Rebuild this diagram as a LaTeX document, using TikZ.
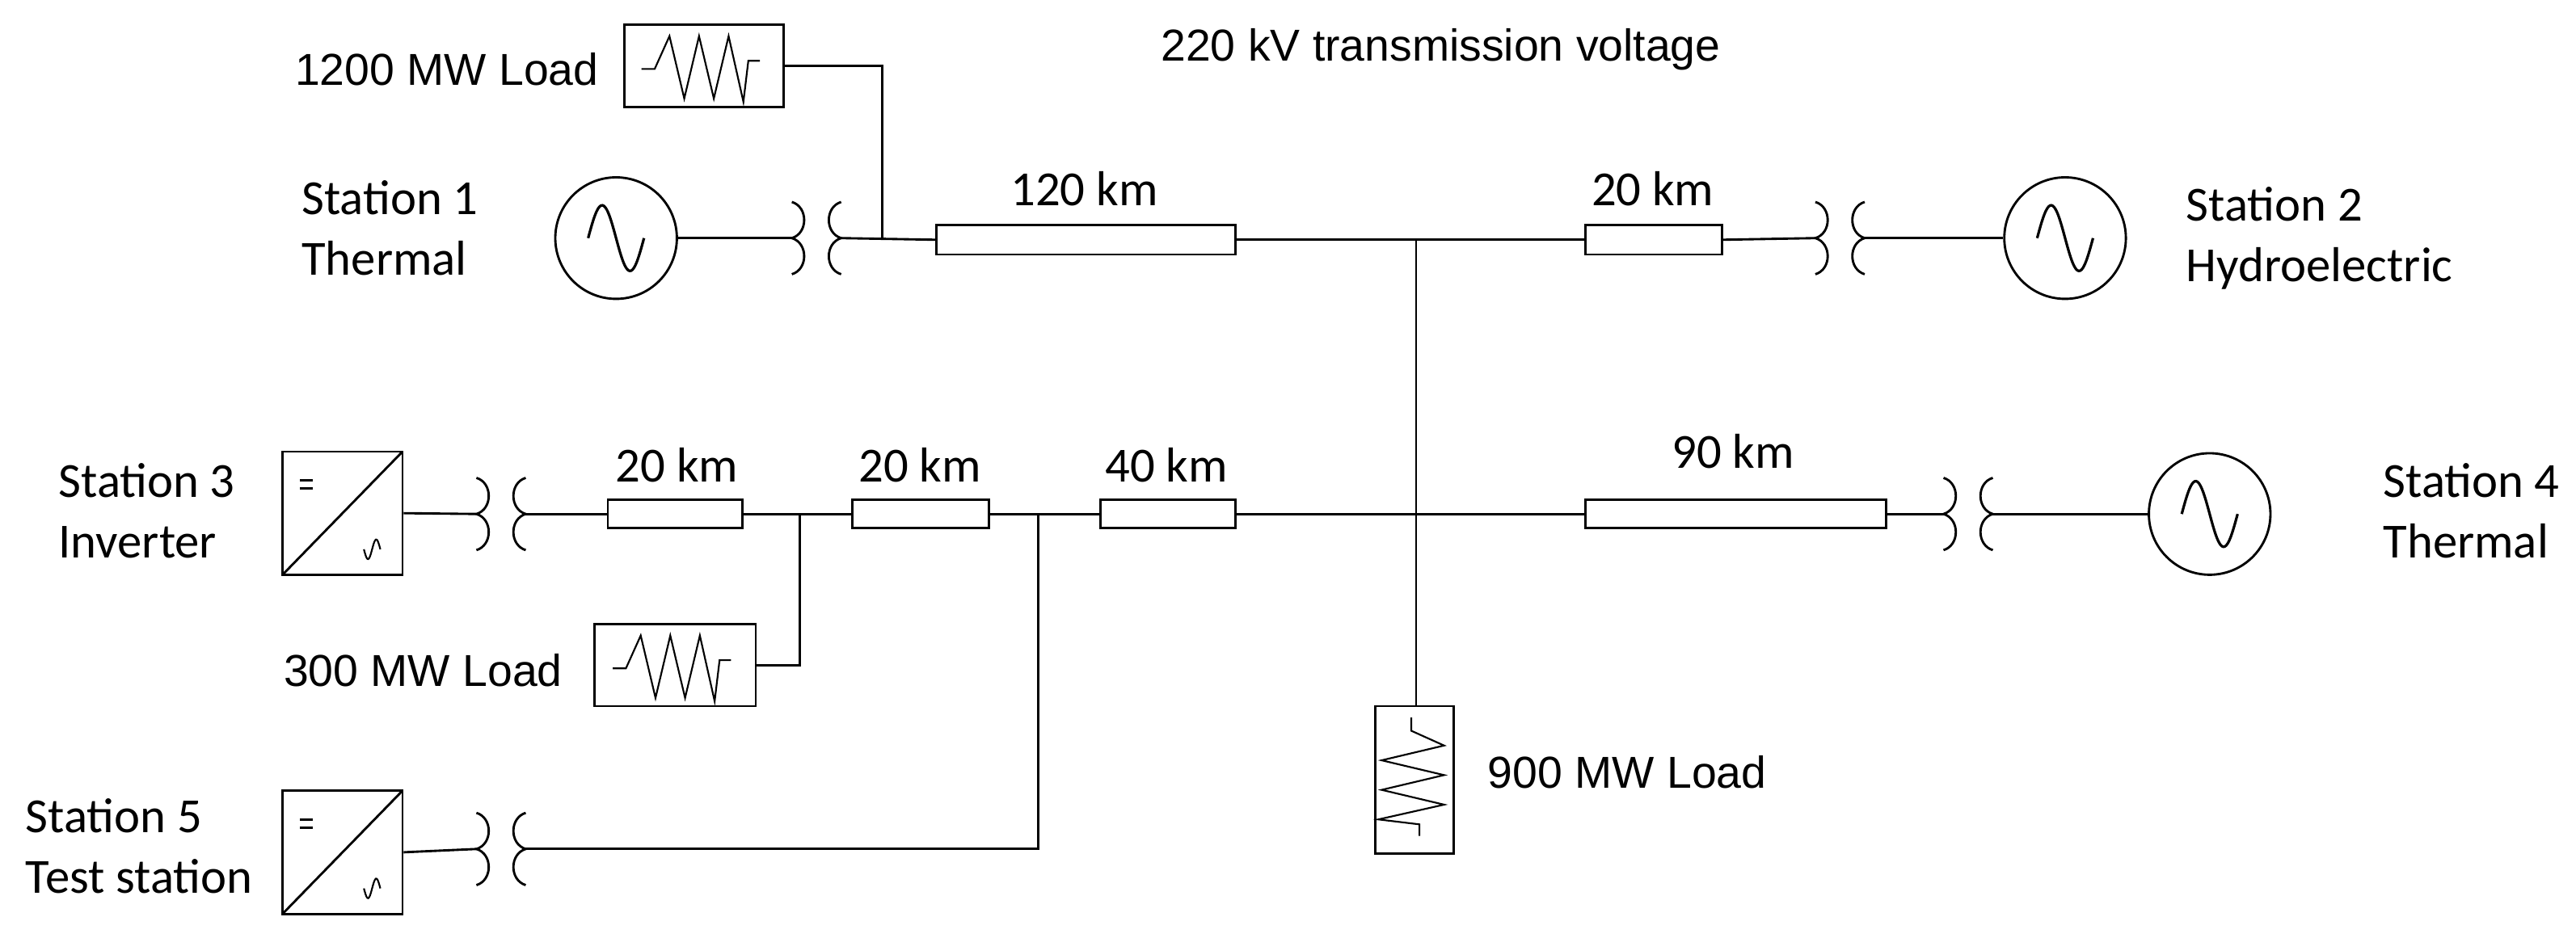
\documentclass[tikz,border=0pt]{standalone}
\usepackage{fontspec}
\setmainfont{Carlito}
\newfontfamily\arialf{Liberation Sans}
\begin{document}
\begin{tikzpicture}[x=0.02cm,y=-0.02cm,line width=0.8pt,
  box/.style={draw,rectangle,inner sep=0pt,fill=white},
  lbl/.style={font=\fontsize{17}{21}\selectfont,align=left,inner sep=0pt},
  albl/.style={font=\arialf\fontsize{15.5}{19}\selectfont,inner sep=0pt},
  gen/.style={draw,circle,minimum size=74*0.02cm,inner sep=0pt},
  pics/xf/.style={code={
    \coordinate (-l) at (0,0); \coordinate (-r) at (30,0);
    \draw (0,-22) .. controls (10,-19) and (10,-3) .. (0,0) .. controls (10,3) and (10,19) .. (0,22);
    \draw (30,-22) .. controls (20,-19) and (20,-3) .. (30,0) .. controls (20,3) and (20,19) .. (30,22);
  }},
  pics/sine/.style={code={\draw[line width=0.9pt] plot[domain=-17:17,samples=40,smooth] (\x,{-20*sin(180*(\x+17)/17)});}},
  pics/res/.style={code={\draw[line width=0.6pt] (-38,2) -- (-30,2) -- (-21,-18) -- (-12,20) -- (-3,-18) -- (6,20) -- (15,-18) -- (24,22) -- (27,-3) -- (34,-3);}},
  pics/inv/.style={code={
    \draw (-36.5,37.5) -- (36.5,-37.5);
    \draw (-26,-20) -- (-18,-20) (-26,-15) -- (-18,-15);
    \draw[line width=0.6pt] plot[domain=-5:5,samples=20,smooth] ({18+\x},{22-6*sin(180*\x/5)});
  }}]
\useasboundingbox (0,0) rectangle (1568,571);
% nodes
\node[box,minimum width=97*0.02cm,minimum height=50*0.02cm] (L1200) at (428.5,40) {};
\pic at (428.5,40) {res};
\node[box,minimum width=182*0.02cm,minimum height=18*0.02cm] (l120) at (661,146) {};
\node[box,minimum width=83*0.02cm,minimum height=18*0.02cm] (l20a) at (1006.5,146) {};
\node[gen] (g1) at (375,145) {}; \pic at (375,145) {sine};
\node[gen] (g2) at (1257,145) {}; \pic at (1257,145) {sine};
\node[gen] (g4) at (1345,313) {}; \pic at (1345,313) {sine};
\pic (xf1) at (482,145) {xf};
\pic (xf2) at (1105,145) {xf};
\pic (xf3) at (290,313) {xf};
\pic (xf4) at (1183,313) {xf};
\pic (xf5) at (290,517) {xf};
\node[box,minimum width=73*0.02cm,minimum height=75*0.02cm] (inv3) at (208.5,312.5) {};
\pic at (208.5,312.5) {inv};
\node[box,minimum width=73*0.02cm,minimum height=75*0.02cm] (inv5) at (208.5,519) {};
\pic at (208.5,519) {inv};
\node[box,minimum width=82*0.02cm,minimum height=17*0.02cm] (l20b) at (411,313) {};
\node[box,minimum width=83*0.02cm,minimum height=17*0.02cm] (l20c) at (560.5,313) {};
\node[box,minimum width=82*0.02cm,minimum height=17*0.02cm] (l40) at (711,313) {};
\node[box,minimum width=183*0.02cm,minimum height=17*0.02cm] (l90) at (1056.5,313) {};
\node[box,minimum width=98*0.02cm,minimum height=50*0.02cm] (L300) at (411,405) {};
\pic at (411,405) {res};
\node[box,minimum width=48*0.02cm,minimum height=90*0.02cm] (L900) at (861,475) {};
\pic[rotate=-90] at (861,475) {res};
\coordinate (j1) at (537,146);
\coordinate (jt) at (862,146);
\coordinate (j2) at (487,313);
\coordinate (j3) at (632,313);
% wires
\draw (g1.east) -- (xf1-l);
\draw (xf1-r) -- (l120.west);
\draw (L1200.east) -| (j1);
\draw (l120.east) -- (jt) -- (l20a.west);
\draw (l20a.east) -- (xf2-l);
\draw (xf2-r) -- (g2.west);
\draw (jt) -- (L900.north -| jt);
\draw (inv3.east) -- (xf3-l);
\draw (xf3-r) -- (l20b.west);
\draw (l20b.east) -- (l20c.west);
\draw (l20c.east) -- (l40.west);
\draw (l40.east) -- (l90.west);
\draw (l90.east) -- (xf4-l);
\draw (xf4-r) -- (g4.west);
\draw (L300.east) -| (j2);
\draw (inv5.east) -- (xf5-l);
\draw (xf5-r) -| (j3);
% labels
\node[albl] (t220) at (877,30) {220 kV transmission voltage};
\node[albl,anchor=east] (t1200) at (365,42) {1200 MW Load};
\node[albl,anchor=east] (t300) at (343,408) {300 MW Load};
\node[albl,anchor=west] (t900) at (905,470) {900 MW Load};
\node[lbl,anchor=west] (s1) at (183,139) {Station 1\\Thermal};
\node[lbl,anchor=west] (s2) at (1330,145) {Station 2\\Hydroelectric};
\node[lbl,anchor=west] (s3) at (35,311) {Station 3\\Inverter};
\node[lbl,anchor=west] (s4) at (1450,311) {Station 4\\Thermal};
\node[lbl,anchor=west] (s5) at (15,515) {Station 5\\Test station};
\node[lbl] (k120) at (660,115) {120 km};
\node[lbl] (k20a) at (1006,115) {20 km};
\node[lbl] (k20b) at (412,283) {20 km};
\node[lbl] (k20c) at (560,283) {20 km};
\node[lbl] (k40) at (710,283) {40 km};
\node[lbl] (k90) at (1055,275) {90 km};
\end{tikzpicture}
\end{document}
